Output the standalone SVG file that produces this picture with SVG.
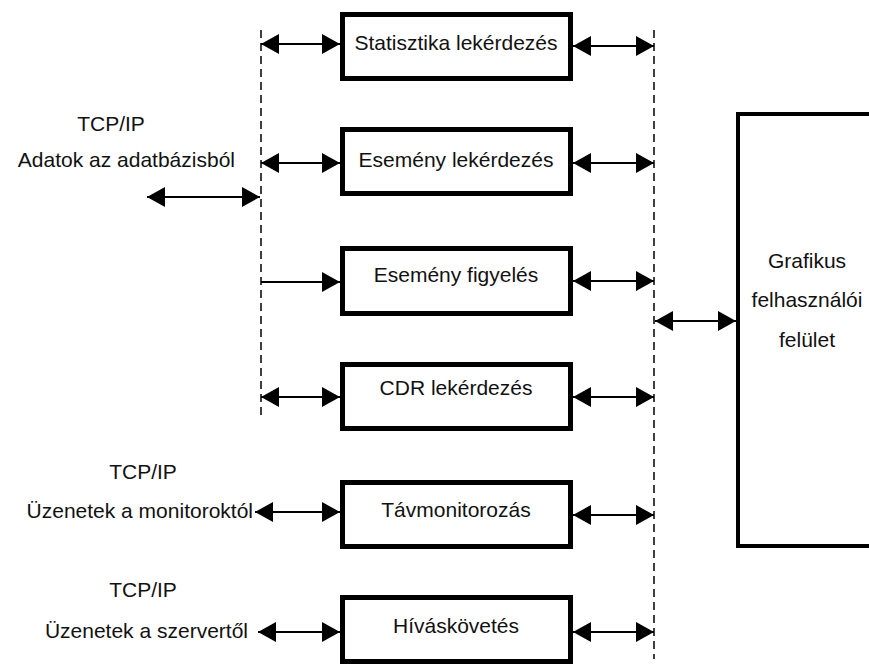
<svg xmlns="http://www.w3.org/2000/svg" width="869" height="664" viewBox="0 0 869 664">
  <style>
    .box { fill: #fff; stroke: #000; stroke-width: 5; }
    .gui { fill: #fff; stroke: #000; stroke-width: 4; }
    .lbl { font-family: "Liberation Sans", Arial, sans-serif; font-size: 21px; fill: #111; }
    .mid { text-anchor: middle; }
    .end { text-anchor: end; }
    .bus { stroke: #000; stroke-width: 1.5; stroke-dasharray: 8 5; fill: none; }
    .link { stroke: #000; stroke-width: 2; fill: none; }
    .both { marker-start: url(#ah); marker-end: url(#ah); }
    .one { marker-end: url(#ah); }
  </style>
  <defs>
    <marker id="ah" markerUnits="userSpaceOnUse" markerWidth="18" markerHeight="20" refX="18" refY="10" orient="auto-start-reverse">
      <path d="M0,0 L18,10 L0,20 z" fill="#000"/>
    </marker>
  </defs>
  <rect width="869" height="664" fill="#fff"/>

  <!-- bus lines -->
  <g id="buses">
    <line class="bus" x1="261" y1="30" x2="261" y2="416"/>
    <line class="bus" x1="654" y1="30" x2="654" y2="659"/>
  </g>

  <!-- free labels on the left -->
  <g id="src-db">
    <text class="lbl mid" x="111" y="131">TCP/IP</text>
    <text class="lbl end" x="235" y="167">Adatok az adatbázisból</text>
  </g>
  <g id="src-monitor">
    <text class="lbl mid" x="143" y="479">TCP/IP</text>
    <text class="lbl end" x="253" y="518">Üzenetek a monitoroktól</text>
  </g>
  <g id="src-server">
    <text class="lbl mid" x="143" y="597">TCP/IP</text>
    <text class="lbl end" x="248" y="638">Üzenetek a szervertől</text>
  </g>

  <!-- modules -->
  <g id="statisztika">
    <rect class="box" x="342.5" y="14.5" width="228" height="64"/>
    <text class="lbl mid" x="456" y="50">Statisztika lekérdezés</text>
  </g>
  <g id="esemeny-lekerdezes">
    <rect class="box" x="342.5" y="129.5" width="228" height="64"/>
    <text class="lbl mid" x="456" y="167">Esemény lekérdezés</text>
  </g>
  <g id="esemeny-figyeles">
    <rect class="box" x="342.5" y="248.5" width="228" height="65"/>
    <text class="lbl mid" x="456" y="282">Esemény figyelés</text>
  </g>
  <g id="cdr">
    <rect class="box" x="342.5" y="364.5" width="228" height="64"/>
    <text class="lbl mid" x="456" y="395">CDR lekérdezés</text>
  </g>
  <g id="tavmonitorozas">
    <rect class="box" x="342.5" y="482.5" width="228" height="64"/>
    <text class="lbl mid" x="456" y="517">Távmonitorozás</text>
  </g>
  <g id="hivaskovetes">
    <rect class="box" x="342.5" y="597.5" width="228" height="64"/>
    <text class="lbl mid" x="456" y="633">Híváskövetés</text>
  </g>
  <g id="grafikus">
    <rect class="gui" x="738" y="114" width="200" height="432"/>
    <text class="lbl mid" x="807" y="268">Grafikus</text>
    <text class="lbl mid" x="807" y="307">felhasználói</text>
    <text class="lbl mid" x="807" y="347">felület</text>
  </g>

  <!-- connectors -->
  <g id="connectors">
    <line class="link both" x1="261" y1="44" x2="340" y2="44"/>
    <line class="link both" x1="573" y1="46" x2="654" y2="46"/>
    <line class="link both" x1="261" y1="163" x2="340" y2="163"/>
    <line class="link both" x1="573" y1="163" x2="654" y2="163"/>
    <line class="link one" x1="261" y1="282" x2="340" y2="282"/>
    <line class="link both" x1="573" y1="281" x2="654" y2="281"/>
    <line class="link both" x1="261" y1="397" x2="340" y2="397"/>
    <line class="link both" x1="573" y1="397" x2="654" y2="397"/>
    <line class="link both" x1="255" y1="512" x2="340" y2="512"/>
    <line class="link both" x1="573" y1="515" x2="654" y2="515"/>
    <line class="link both" x1="258" y1="632" x2="340" y2="632"/>
    <line class="link both" x1="573" y1="632" x2="654" y2="632"/>
    <line class="link both" x1="147" y1="197" x2="260" y2="197"/>
    <line class="link both" x1="655" y1="321" x2="736" y2="321"/>
  </g>
</svg>
